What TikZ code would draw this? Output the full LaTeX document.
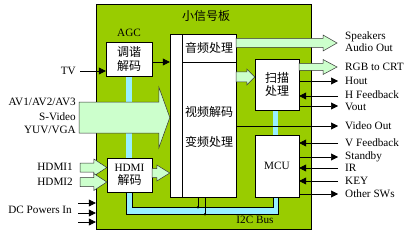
\documentclass[tikz,border=0pt]{standalone}
\usepackage{fontspec}
\setmainfont{Liberation Serif}
\newfontfamily\cjk{Noto Sans CJK SC}
\usetikzlibrary{arrows.meta,calc}

\definecolor{boardgreen}{RGB}{153,204,0}
\definecolor{palegreen}{RGB}{204,255,204}
\definecolor{buscyan}{RGB}{153,240,255}

\newcommand{\latsize}{\fontsize{11.2}{12}\selectfont}
\newcommand{\cjksize}{\cjk\fontsize{12}{13.5}\selectfont}

% fat arrow: from, to, shaft half width, head half width, head length
\newcommand{\fatarrow}[5]{%
  \draw[fatline] let \p1=(#1), \p2=(#2) in
    (\x1,\y1-#3pt) -- (\x2-#5pt,\y1-#3pt) -- (\x2-#5pt,\y1-#4pt) -- (\x2,\y1)
    -- (\x2-#5pt,\y1+#4pt) -- (\x2-#5pt,\y1+#3pt) -- (\x1,\y1+#3pt) -- cycle;}

\tikzset{
  box/.style={draw, fill=white, inner sep=0pt, align=center, font=\cjksize},
  lbl/.style={anchor=west, inner sep=0pt, font=\latsize},
  lblr/.style={anchor=east, inner sep=0pt, font=\latsize},
  sig/.style={-{Triangle[length=7pt,width=7pt]}, line width=0.6pt},
  fatline/.style={draw=black!80, fill=palegreen, line width=0.5pt, line join=miter},
}

\begin{document}
\begin{tikzpicture}[x=1pt, y=-1pt]
  \useasboundingbox[fill=white] (0,0) rectangle (411,235);

  % === board ===
  \node[draw, fill=boardgreen, minimum width=215pt, minimum height=225pt, inner sep=0pt] (board) at (203.5,116.5) {};
  \node[font=\cjksize, inner sep=0pt] (title) at (206,16) {小信号板};
  \node[font=\latsize, inner sep=0pt] (agc) at (129,33) {AGC};

  % === I2C bus ===
  \fill[buscyan] (126,76) rectangle (132,192);
  \fill[buscyan] (126,192) -- (126,214) -- (278,214) -- (278,197) -- (273,197) -- (273,207) -- (132,207) -- (132,192) -- cycle;
  \fill[buscyan] (273,110) rectangle (278,135);
  \draw[line width=0.6pt] (126,192) |- (278,214) -- (278,197);
  \draw[line width=0.6pt] (132,192) |- (273,207) -- (273,197);
  \node[font=\latsize, inner sep=0pt] (i2c) at (255,220) {I2C Bus};

  % === coordinates of free ends ===
  \coordinate (avin) at (79,117.5);
  \coordinate (hdmiin1) at (80,167.5);
  \coordinate (hdmiin2) at (80,182);
  \coordinate (tvin) at (80,71);
  \coordinate (spk) at (337,43);
  \coordinate (rgb) at (337,67);
  \coordinate (hout) at (338,81);
  \coordinate (hfb) at (338,96);
  \coordinate (vout) at (338,106);
  \coordinate (vidout) at (338,126);
  \coordinate (vfb) at (338,143);
  \coordinate (stby) at (338,157);
  \coordinate (ir) at (338,168);
  \coordinate (key) at (338,181);
  \coordinate (osw) at (338,194);
  \coordinate (dc1) at (78,203);
  \coordinate (dc2) at (78,213);
  \coordinate (dc3) at (78,222);

  % === blocks ===
  \node[box, minimum width=66pt, minimum height=163pt] (core) at (203,115.5) {};
  \node[box, minimum width=54pt, minimum height=28pt] (audio) at (209,48) {音频处理};
  \node[box, minimum width=54pt, minimum height=135pt] (video) at (209,129.5) {};
  \node[font=\cjksize, inner sep=0pt] (vdec) at (209,112) {视频解码};
  \node[font=\cjksize, inner sep=0pt] (vconv) at (209,142) {变频处理};
  \node[box, minimum width=46pt, minimum height=34pt] (tuner) at (129,59) {调谐\\解码};
  \node[box, minimum width=45pt, minimum height=34pt] (hdmi) at (129.5,175) {{\rmfamily\latsize HDMI}\\解码};
  \node[box, minimum width=44pt, minimum height=51pt] (scan) at (277,84.5) {扫描\\处理};
  \node[box, minimum width=44pt, minimum height=62pt, font=\latsize] (mcu) at (277,166) {MCU};

  % === fat arrows ===
  \fatarrow{avin}{avin -| core.west}{15.5}{30.5}{11}
  \fatarrow{hdmiin1}{hdmiin1 -| hdmi.west}{4.5}{8.5}{13}
  \fatarrow{hdmiin2}{hdmiin2 -| hdmi.west}{4.5}{8.5}{13}
  \coordinate (hdmiout) at (152,173);
  \fatarrow{hdmiout}{hdmiout -| core.west}{4.5}{8}{13}
  \coordinate (scanin) at (236,77);
  \fatarrow{scanin}{scanin -| scan.west}{5}{8}{8}
  \fatarrow{audio.east |- spk}{spk}{4.5}{8}{14}
  \fatarrow{scan.east |- rgb}{rgb}{3.5}{7.5}{14}

  % === signal lines ===
  \draw[sig] (tvin) -- (tvin -| tuner.west);
  \coordinate (tunerout) at (152,62);
  \draw[sig] (tunerout) -- (tunerout -| core.west);
  \draw[sig] (scan.east |- hout) -- (hout);
  \draw[sig] (hfb) -- (hfb -| scan.east);
  \draw[sig] (scan.east |- vout) -- (vout);
  \draw[sig] (video.east |- vidout) -- (vidout);
  \draw[sig] (vfb) -- (vfb -| mcu.east);
  \draw[sig] (mcu.east |- stby) -- (stby);
  \draw[sig] (ir) -- (ir -| mcu.east);
  \draw[sig] (key) -- (key -| mcu.east);
  \draw[sig] (mcu.east |- osw) -- (osw);
  \draw[sig] (dc1) -- (dc1 -| board.west);
  \draw[sig] (dc2) -- (dc2 -| board.west);
  \draw[sig] (dc3) -- (dc3 -| board.west);

  % drops from video block onto the bus
  \draw[line width=0.6pt] ([xshift=-11pt]video.south) -- ++(0,10);
  \fill ([xshift=-11pt]video.south) ++(0,10) circle (1.4);
  \draw[line width=0.6pt] ([xshift=-4pt]video.south) -- ++(0,17);
  \fill ([xshift=-4pt]video.south) ++(0,17) circle (1.4);

  % === labels ===
  \node[lblr] (tv-l) at (76,71) {TV};
  \node[lblr] (av-l) at (76,102) {AV1/AV2/AV3};
  \node[lblr] (sv-l) at (76,117) {S-Video};
  \node[lblr] (yuv-l) at (76,130) {YUV/VGA};
  \node[lblr] (hdmi1-l) at (73,167) {HDMI1};
  \node[lblr] (hdmi2-l) at (73,182) {HDMI2};
  \node[lblr] (dc-l) at (72,210) {DC Powers In};
  \node[lbl] (spk-l) at (345,37) {Speakers};
  \node[lbl] (ao-l) at (345,48) {Audio Out};
  \node[lbl] (rgb-l) at (345,67) {RGB to CRT};
  \node[lbl] (hout-l) at (345,81) {Hout};
  \node[lbl] (hfb-l) at (345,94.5) {H Feedback};
  \node[lbl] (vout-l) at (345,107) {Vout};
  \node[lbl] (vid-l) at (345,126) {Video Out};
  \node[lbl] (vfb-l) at (345,143) {V Feedback};
  \node[lbl] (stby-l) at (345,157) {Standby};
  \node[lbl] (ir-l) at (345,168) {IR};
  \node[lbl] (key-l) at (345,181) {KEY};
  \node[lbl] (osw-l) at (345,194) {Other SWs};
\end{tikzpicture}
\end{document}
